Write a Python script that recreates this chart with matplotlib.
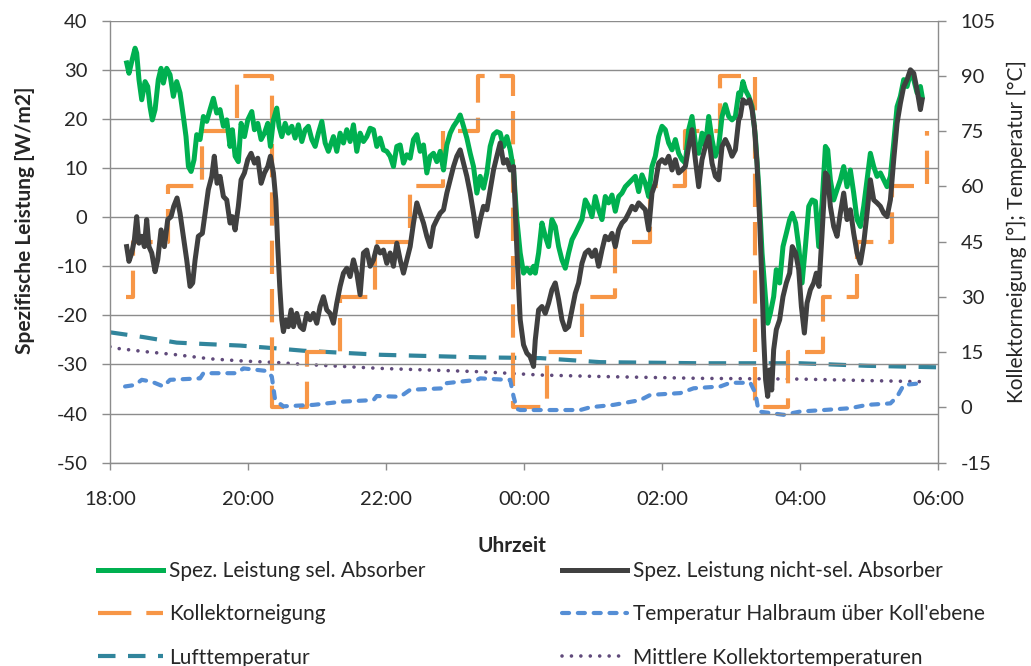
import matplotlib
matplotlib.use("Agg")
import matplotlib.pyplot as plt
import numpy as np

plt.rcParams['font.family'] = ['Lato', 'DejaVu Sans']
plt.rcParams['axes.unicode_minus'] = False

# ---------------- data (time in minutes after 18:00) ----------------
t_sel = [14.5, 16.5, 18.9, 21.8, 23.2, 25.2, 27.6, 30.5, 32.8, 34.8, 36.8, 39.2, 42.0, 44.4, 46.4, 49.3,
         52.2, 55.1, 58.0, 60.9, 63.8, 66.1, 68.2, 70.5, 73.1, 75.4, 78.3, 81.2, 84.1, 87.0, 89.9, 92.8,
         95.7, 98.6, 101.5, 104.4, 106.4, 108.8, 111.6, 114.0, 116.9, 119.8, 123.3, 125.6, 128.5, 131.4,
         134.3, 137.2, 139.5, 142.1, 145.0, 147.0, 149.4, 152.3, 155.1, 158.1, 161.0, 163.8, 166.8, 169.7,
         172.5, 175.5, 178.4, 181.2, 184.2, 187.1, 189.9,
         191.4, 194.3, 197.2, 200.1, 203.0, 205.9, 208.8, 211.7, 214.6, 217.5, 220.4, 223.3, 226.2, 229.1,
         232.0, 234.9, 237.8, 240.7, 243.6, 246.5, 249.4, 252.3, 255.2, 258.1, 261.0, 263.9, 266.8, 269.7,
         272.6, 275.5, 278.4, 281.3, 284.2, 287.1, 290.0, 292.9, 295.8, 298.7, 301.6, 304.5, 307.4, 310.3,
         313.2, 316.1, 319.0, 321.9, 324.8, 327.7, 330.6, 333.5, 336.4, 339.3, 342.2, 345.1, 348.0, 350.9,
         353.8, 356.7, 359.6, 362.5, 365.4, 368.3,
         369.8, 372.7, 375.6, 378.5, 381.4, 384.3, 387.2, 390.1, 393.0, 395.9, 398.8, 401.7, 404.6, 407.5,
         410.4, 413.3, 416.2, 419.1, 422.0, 424.9, 427.8, 430.7, 433.6, 436.5, 439.4, 442.3, 445.2, 448.1,
         451.0, 453.9, 456.8, 459.7, 462.6, 465.5, 468.4, 471.3, 474.2, 477.1, 480.0, 482.9, 485.8, 488.7,
         491.6, 494.5, 497.4, 500.3, 503.2, 506.1, 509.0, 511.9, 514.8, 517.7, 520.6, 523.5, 526.4, 529.3,
         532.2, 535.1, 538.0, 540.9, 543.8, 546.7,
         548.1, 550.4, 552.5, 555.4, 558.3, 561.2, 564.1, 567.0, 569.9, 571.9, 574.2, 577.1, 579.4, 582.3,
         585.2, 588.1, 591.0, 593.3, 596.2, 598.9, 601.8, 604.7, 607.6, 610.5, 613.4, 616.3, 619.2, 622.1,
         624.1, 626.4, 629.3, 632.2, 635.1, 638.0, 640.9, 643.8, 646.7, 649.6, 652.5, 655.4, 658.3, 661.2,
         664.1, 667.0, 669.9, 672.8, 675.7, 678.6, 681.5, 684.4, 687.3, 690.2, 693.1, 696.0, 698.9, 701.8,
         704.7, 706.2]
p_sel = [31.4, 29.3, 31.7, 34.4, 33.4, 28.0, 23.9, 27.6, 26.6, 22.5, 19.8, 21.9, 28.0, 30.3, 27.3, 30.3,
         29.0, 24.6, 27.6, 25.3, 20.5, 16.4, 10.3, 9.3, 11.7, 16.8, 15.8, 20.5, 19.5, 21.9, 24.2, 21.2,
         21.9, 18.5, 19.8, 14.4, 17.8, 12.4, 11.3, 19.1, 16.4, 19.8, 21.5, 17.8, 19.1, 15.8,
         17.1, 19.1, 14.4, 19.8, 22.2, 18.5, 16.4, 19.1, 17.1, 18.5, 16.1, 18.8, 15.4, 17.8,
         18.5, 15.8, 14.4, 17.1, 19.5, 15.1, 13.4,
         14.4, 16.4, 13.4, 17.1, 15.1, 17.8, 15.4, 18.8, 13.4, 17.1, 15.4, 16.4, 18.1, 17.8,
         14.4, 16.1, 13.7, 13.4, 12.4, 10.3, 14.4, 14.7, 11.0, 12.7, 12.0, 15.8, 16.8, 13.4,
         14.7, 9.0, 12.4, 13.0, 11.3, 13.4, 9.6, 14.7, 17.1, 18.5, 19.5, 20.8, 18.5, 16.1,
         13.0, 10.3, 4.9, 8.3, 5.9, 9.0, 14.4, 16.8, 17.4, 17.1, 14.4, 16.4, 13.7, 9.6,
         -0.5, -7.3, -11.4, -10.4, -11.4, -10.0,
         -11.4, -7.3, -1.2, -3.9, -6.0, -0.5, -1.9, -6.0, -8.7, -10.4, -7.3, -4.6, -3.3, -1.9,
         -0.5, 3.5, 2.2, 0.1, 4.2, 1.5, -0.5, 4.2, 2.9, 4.5, 1.2, 4.2, 4.9, 6.2,
         6.9, 7.6, 8.3, 5.2, 8.6, 6.9, 4.2, 10.3, 12.4, 16.4, 18.5, 17.8, 15.1, 13.7,
         15.8, 13.0, 11.7, 11.0, 17.8, 20.5, 15.1, 13.0, 17.1, 14.4, 20.5, 15.8, 12.4, 14.4,
         20.5, 22.9, 20.5, 19.8, 20.5, 25.3,
         24.6, 27.6, 25.9, 24.6, 22.5, 16.4, 6.2, -7.3, -16.2, -21.6, -19.6, -16.2, -10.7, -13.4,
         -6.0, -3.3, -0.5, 0.8, -1.2, -6.0, -13.4, -6.0, 2.2, 3.5, 3.2, -6.0, 2.9, 14.4,
         13.7, 7.6, 3.5, 5.6, 7.6, 10.3, 6.2, 9.6, 4.9, -0.5, -1.9, 2.2, 7.6, 13.0,
         10.3, 8.3, 9.0, 7.6, 6.2, 8.3, 15.1, 22.5, 24.6, 28.0, 26.6, 29.3, 28.0, 25.3,
         26.6, 24.6]

t_nsel = [14.5, 16.5, 18.9, 21.2, 23.2, 25.2, 27.6, 29.9, 31.9, 33.9, 36.3, 39.2, 41.5, 44.4, 47.3, 50.2,
          53.1, 55.4, 58.3, 60.9, 63.8, 66.7, 69.6, 71.9, 74.0, 76.8, 80.3, 82.7, 85.5, 88.5, 90.7, 93.1,
          95.7, 98.6, 101.5, 104.4, 106.4, 108.8, 111.6, 114.0, 116.9, 119.8, 122.7, 125.6, 128.5, 131.4,
          134.3, 137.2, 139.5, 142.1, 144.2, 145.9, 147.6, 149.4, 150.8, 152.9, 155.1, 157.5, 159.5, 162.4,
          165.3, 168.2, 171.1, 174.0, 176.9, 179.8, 182.7, 185.6, 188.5,
          191.4, 194.3, 197.2, 200.1, 203.0, 205.9, 208.8, 211.7, 214.6, 217.5, 220.4, 223.3, 226.2, 229.1,
          232.0, 234.9, 237.8, 240.7, 243.6, 246.5, 249.4, 252.3, 255.2, 258.1, 261.0, 263.9, 266.8, 269.7,
          272.6, 275.5, 278.4, 281.3, 284.2, 287.1, 290.0, 292.9, 295.8, 298.7, 301.6, 304.5, 307.4, 310.3,
          313.2, 316.1, 319.0, 321.9, 324.8, 327.7, 330.6, 333.5, 336.4, 339.3, 342.2, 345.1, 348.0, 350.9,
          353.8, 356.7, 359.6, 362.5, 365.4, 368.3,
          369.8, 372.7, 375.6, 378.5, 381.4, 384.3, 387.2, 390.1, 393.0, 395.9, 398.8, 401.7, 404.6, 407.5,
          410.4, 413.3, 416.2, 419.1, 422.0, 424.9, 427.8, 430.7, 433.6, 436.5, 439.4, 442.3, 445.2, 448.1,
          451.0, 453.9, 456.8, 459.7, 462.6, 465.5, 468.4, 471.3, 474.2, 477.1, 480.0, 482.9, 485.8, 488.7,
          491.6, 494.5, 497.4, 500.3, 503.2, 506.1, 509.0, 511.9, 514.8, 517.7, 520.6, 523.5, 526.4, 529.3,
          532.2, 535.1, 538.0, 540.9, 543.8, 546.7,
          548.1, 550.4, 553.3, 556.2, 558.3, 560.3, 562.6, 564.9, 567.0, 568.4, 570.1, 571.9, 573.6, 575.4,
          577.1, 579.4, 582.3, 585.2, 588.1, 591.0, 593.3, 596.2, 598.9, 601.2, 603.8, 606.1, 609.0, 611.9,
          614.2, 616.5, 619.2, 622.1, 624.1, 626.4, 629.3, 632.2, 635.1, 638.0, 640.9, 643.8, 646.7, 649.6,
          652.5, 655.4, 658.3, 661.2, 664.1, 667.0, 669.9, 672.8, 675.7, 678.6, 681.5, 684.4, 687.3, 690.2,
          693.1, 696.0, 698.9, 701.8, 704.7, 706.2]
p_nsel = [-6.0, -9.0, -7.3, -4.6, 0.1, -5.3, -3.9, -6.0, -0.5, -6.0, -7.3, -11.1, -8.7, -2.6, -6.0, -0.5,
          0.1, 2.2, 3.9, 0.8, -3.9, -8.7, -14.1, -13.4, -8.7, -3.9, -3.3, 0.8, 5.6, 8.3, 12.4, 6.9,
          8.3, 4.2, 3.5, -1.2, 0.1, -2.6, 2.2, 7.6, 9.0, 11.7, 13.0, 11.0, 12.0, 6.9,
          9.0, 10.3, 12.4, 9.0, 3.5, -6.0, -14.1, -20.9, -23.3, -20.9, -22.3, -18.9, -22.3, -19.6,
          -22.3, -22.9, -19.6, -20.9, -19.6, -21.6, -18.2, -16.2, -18.9,
          -19.6, -21.6, -17.5, -14.1, -11.4, -10.4, -12.1, -8.7, -11.4, -15.8, -7.3, -6.7, -10.0, -8.7,
          -6.0, -7.3, -6.7, -9.4, -7.3, -10.0, -5.3, -8.7, -11.4, -8.7, -6.0, -1.2, 2.9, 0.8,
          -1.2, -3.9, -6.0, -1.9, -0.5, 0.8, 1.5, 4.9, 7.6, 10.3, 12.4, 13.7, 11.0, 8.3,
          4.9, 0.8, -3.9, -0.5, 2.2, 1.5, 5.6, 9.6, 12.4, 15.1, 11.0, 11.7, 9.6, 10.3,
          -6.7, -20.9, -26.0, -27.7, -28.4, -30.4,
          -25.0, -18.9, -18.2, -19.6, -17.5, -14.8, -13.4, -16.8, -20.9, -22.9, -22.3, -18.9, -15.5, -13.4,
          -9.4, -7.3, -6.7, -8.0, -6.7, -10.0, -6.7, -3.9, -4.6, -3.3, -6.0, -2.6, -1.2, -0.5,
          0.8, 2.2, 1.5, 2.9, 2.2, 1.5, -2.6, 4.9, 6.9, 11.0, 11.7, 11.0, 12.4, 9.6,
          11.7, 9.0, 9.6, 10.3, 14.4, 17.8, 11.7, 6.2, 11.7, 14.4, 16.4, 11.0, 8.3, 7.6,
          14.4, 15.8, 14.4, 12.4, 13.7, 19.8,
          20.5, 23.9, 23.2, 23.9, 21.9, 18.5, 11.0, -0.5, -14.1, -24.3, -33.1, -36.5, -31.1, -35.2,
          -27.0, -22.9, -20.9, -16.2, -13.4, -11.4, -6.0, -7.3, -10.7, -18.2, -23.6, -17.5, -14.8, -13.4,
          -11.4, -14.1, -3.3, 9.0, 8.3, 2.2, -1.9, -3.9, 0.8, 4.9, -0.5, 1.5, -3.3, -7.3,
          -9.4, -5.3, 0.8, 7.6, 3.5, 2.9, 2.2, 0.8, 0.1, 3.5, 11.7, 19.1, 23.2, 26.6,
          28.0, 30.0, 29.3, 25.9, 21.9, 23.9]

t_tilt = [13.7, 20.0, 50.5, 80.0, 110.5, 141.0, 171.4, 200.1, 230.6, 261.0, 289.7, 320.2, 350.6,
          380.2, 410.6, 439.4, 469.8, 500.3, 530.7, 561.2, 589.9, 620.3, 649.9, 680.3, 710.8]
tilt = [30, 45, 60, 75, 90, 0, 15, 30, 45, 60, 75, 90, 0,
        15, 30, 45, 60, 75, 90, 0, 15, 30, 45, 60, 75]

t_half = [13.1, 21.8, 27.6, 36.3, 46.4, 52.2, 78.3, 81.2, 110.2, 116.0, 136.3, 140.7, 143.6, 150.8,
          176.9, 203.0, 229.1, 232.0, 252.3, 261.0, 290.0, 292.9, 319.0, 321.9, 345.1, 348.0, 350.9,
          353.8, 356.7, 382.8, 408.9, 417.6, 437.9, 461.1, 469.8, 495.9, 507.5, 530.7, 539.4, 556.8,
          561.2, 564.0, 585.8, 600.3, 620.6, 643.8, 658.3, 678.6, 684.4, 690.2, 706.2]
T_half = [5.7, 6.1, 7.5, 7.0, 5.7, 7.5, 7.9, 9.3, 9.3, 10.6, 9.9, 8.4, 2.0, 0.3,
          0.7, 1.6, 2.0, 3.1, 2.9, 4.8, 5.2, 6.6, 7.5, 7.9, 7.5, 7.5, 3.0,
          -0.4, -0.7, -0.7, -0.7, 0.05, 0.7, 2.0, 3.4, 3.9, 5.2, 5.7, 6.7, 6.7,
          3.9, -1.1, -2.0, -1.1, -0.7, -0.2, 0.7, 1.1, 2.9, 6.1, 6.6]

t_air = [0, 29.0, 58.0, 84.1, 113.1, 142.1, 168.2, 234.9, 321.9, 374.1, 426.3, 513.3, 600.3, 658.6, 720]
T_air = [20.4, 19.1, 17.6, 17.2, 16.8, 16.1, 15.4, 14.3, 13.6, 13.4, 12.3, 12.0, 12.0, 11.3, 10.9]

t_coll = [0, 4.4, 29.0, 58.0, 87.0, 116.0, 145.0, 168.2, 234.9, 321.9, 374.1, 426.3, 513.3, 600.3, 658.6, 706.2]
T_coll = [16.5, 16.1, 15.2, 14.3, 13.2, 12.6, 12.2, 11.7, 10.6, 9.7, 8.8, 8.4, 7.9, 7.7, 7.3, 7.0]

x_ticks = [0, 120, 240, 360, 480, 600, 720]
x_ticklabels = ["18:00", "20:00", "22:00", "00:00", "02:00", "04:00", "06:00"]
left_ticks = [-50, -40, -30, -20, -10, 0, 10, 20, 30, 40]
right_ticks = [-15, 0, 15, 30, 45, 60, 75, 90, 105]

labels = ["Spez. Leistung sel. Absorber", "Spez. Leistung nicht-sel. Absorber",
          "Kollektorneigung", "Temperatur Halbraum über Koll'ebene",
          "Lufttemperatur", "Mittlere Kollektortemperaturen"]

# ---------------- figure ----------------
W, H = 1031, 666
fig = plt.figure(figsize=(W / 100, H / 100), dpi=100)
ax = fig.add_axes([110 / W, 1 - 462.7 / H, 828 / W, 442 / H])
ax2 = ax.twinx()
ax.set_zorder(ax2.get_zorder() + 1)
ax.patch.set_visible(False)

GRID = '#8c8c8c'
TXT = '#262626'
FS = 14.5
FS_LAB = 15.0

l_air, = ax2.plot(t_air, T_air, color='#31859C', lw=3, linestyle=(0, (4.2, 3.0)),
                  dash_capstyle='butt', label=labels[4])
l_coll, = ax2.plot(t_coll, T_coll, color='#604A7B', lw=2.6, linestyle=(0, (0.01, 2.6)),
                   dash_capstyle='round', label=labels[5])
l_tilt, = ax2.step(t_tilt, tilt, where='post', color='#F79646', lw=3,
                   linestyle=(0, (8.0, 3.6)), dash_capstyle='butt', label=labels[2])
l_half, = ax2.plot(t_half, T_half, color='#558ED5', lw=3, linestyle=(0, (1.7, 2.1)),
                   dash_capstyle='round', label=labels[3])

l_sel, = ax.plot(t_sel, p_sel, color='#00B050', lw=3.6, solid_joinstyle='round', label=labels[0])
l_nsel, = ax.plot(t_nsel, p_nsel, color='#404040', lw=3.6, solid_joinstyle='round', label=labels[1])

ax.set_xlim(0, 720)
ax.set_ylim(-50, 40)
ax2.set_ylim(-15, 105)
ax.set_xticks(x_ticks)
ax.set_xticklabels(x_ticklabels)
ax.set_yticks(left_ticks)
ax2.set_yticks(right_ticks)

ax.grid(axis='y', color=GRID, lw=1.0)
ax.grid(axis='x', visible=False)
for a in (ax, ax2):
    for s in a.spines.values():
        s.set_color(GRID)
        s.set_linewidth(1.0)
    a.spines['top'].set_visible(False)
ax.spines['right'].set_visible(False)
ax2.spines['left'].set_visible(False)
ax2.spines['bottom'].set_visible(False)

ax.tick_params(axis='y', direction='out', length=5.8, width=1, color=GRID, pad=10.5,
               labelsize=FS, labelcolor=TXT)
ax.tick_params(axis='x', direction='out', length=5.2, width=1, color=GRID, pad=15,
               labelsize=FS, labelcolor=TXT)
ax2.tick_params(axis='y', direction='out', length=5.8, width=1, color=GRID, pad=10.5,
                labelsize=FS, labelcolor=TXT)

ax.set_ylabel("Spezifische Leistung [W/m2]", fontsize=FS_LAB, fontweight='bold', color=TXT,
              va='center')
ax.yaxis.set_label_coords((25 - 110) / 828, (462.7 - 220) / 442)
ax2.set_ylabel("Kollektorneigung [°]; Temperatur [°C]", fontsize=FS_LAB, color=TXT, va='center')
ax2.yaxis.set_label_coords((1017 - 110) / 828, (462.7 - 232) / 442)
ax.set_xlabel("Uhrzeit", fontsize=FS_LAB, fontweight='bold', color=TXT, va='center')
ax.xaxis.set_label_coords((512 - 110) / 828, (462.7 - 546) / 442)

leg_kw = dict(frameon=False, fontsize=FS_LAB, handlelength=3.1, handletextpad=0.3,
              labelspacing=1.12, borderpad=0, borderaxespad=0, loc='upper left',
              labelcolor=TXT)
fig.legend(handles=[l_sel, l_tilt, l_air], labels=[labels[0], labels[2], labels[4]],
           bbox_to_anchor=(98 / W, 1 - 561 / H), **leg_kw)
fig.legend(handles=[l_nsel, l_half, l_coll], labels=[labels[1], labels[3], labels[5]],
           bbox_to_anchor=(562 / W, 1 - 561 / H), **leg_kw)

fig.savefig("out.png", dpi=100)
